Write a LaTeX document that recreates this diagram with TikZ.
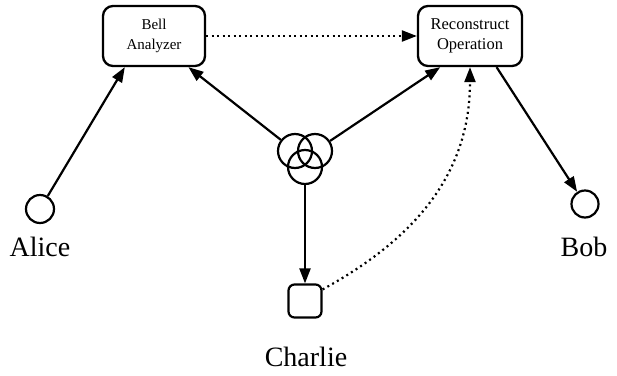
\documentclass[tikz,border=0pt]{standalone}
\usepackage{fontspec}
\setmainfont{Liberation Serif}
\usetikzlibrary{arrows.meta,calc}
\tikzset{
  x=1pt,y=-1pt,
  boxnode/.style={draw,line width=2.3pt,rounded corners=10pt,align=center,inner sep=0pt},
  dotnode/.style={draw,circle,line width=2.2pt,inner sep=0pt},
  arr/.style={line width=2.2pt,-{Triangle[length=15pt,width=11pt]}},
  dotarr/.style={line width=2.2pt,dash pattern=on 2pt off 3.5pt,-{Triangle[length=15pt,width=11pt]}},
  bigtext/.style={font=\fontsize{28}{30}\selectfont,anchor=base,inner sep=0pt}
}
\begin{document}
\begin{tikzpicture}
\useasboundingbox (0,0) rectangle (617,375);
\node[boxnode,minimum width=102pt,minimum height=60pt,font=\fontsize{15}{20}\selectfont] (bell) at (154,36) {Bell\\Analyzer};
\node[boxnode,minimum width=104pt,minimum height=60pt,font=\fontsize{16.5}{20}\selectfont] (rec) at (470,36) {Reconstruct\\Operation};
\node[dotnode,minimum size=28pt] (alice) at (40,209) {};
\node[dotnode,minimum size=27pt] (bob) at (585,204) {};
\node[dotnode,minimum size=34pt] (c1) at (295,151) {};
\node[dotnode,minimum size=34pt] (c2) at (315,151) {};
\node[dotnode,minimum size=34pt] (c3) at (305,167) {};
\node[draw,line width=2.2pt,rounded corners=6pt,minimum size=33pt,inner sep=0pt] (charlie) at (305,301) {};
\node[bigtext] (alicelab) at (40,256) {Alice};
\node[bigtext] (boblab) at (584,256) {Bob};
\node[bigtext] (charlielab) at (306,366) {Charlie};
\coordinate (b1) at ($(bell.south west)!0.22!(bell.south east)$);
\coordinate (b2) at ($(bell.south west)!0.83!(bell.south east)$);
\coordinate (r1) at ($(rec.south west)!0.22!(rec.south east)$);
\coordinate (r2) at ($(rec.south west)!0.50!(rec.south east)$);
\coordinate (r3) at ($(rec.south west)!0.75!(rec.south east)$);
\draw[arr] (alice) -- (b1);
\draw[arr] (c1) -- (b2);
\draw[arr] (c2) -- (r1);
\draw[arr] (c3) -- (charlie);
\draw[arr] (r3) -- (bob);
\draw[dotarr] (bell) -- (rec);
\draw[dotarr] (charlie.north east) ++(0,6) coordinate (cs) (cs) .. controls (422,235) and (470,168) .. (r2);
\end{tikzpicture}
\end{document}
